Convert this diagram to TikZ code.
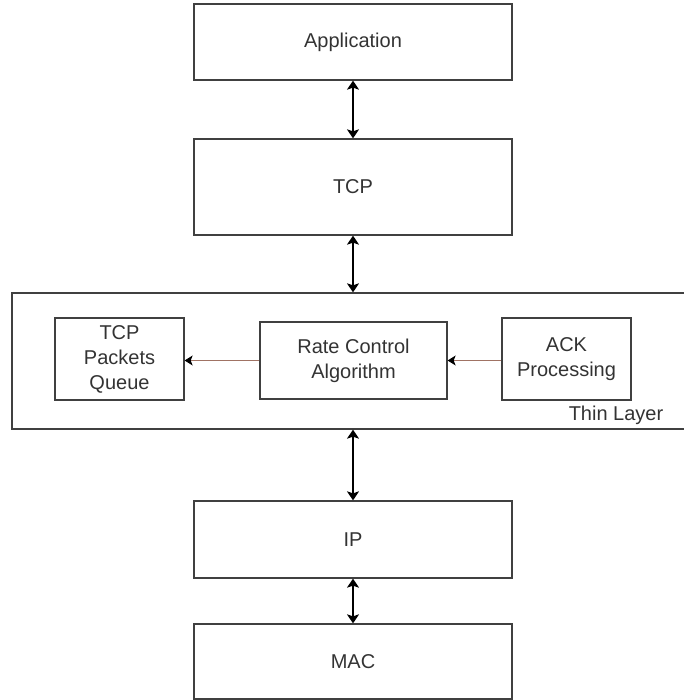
\documentclass[tikz,border=0pt]{standalone}
\usepackage{fontspec}
\setmainfont{Liberation Sans}
\usetikzlibrary{arrows.meta}
\definecolor{linkbrown}{RGB}{160,115,100}
\tikzset{
  box/.style={draw=black!75,line width=1.3pt,inner sep=0pt,align=center,text=black!80,
    font=\fontsize{20}{25}\selectfont},
  layer/.style={box,minimum width=318pt},
  updown/.style={{Stealth[length=9pt,width=12pt,inset=2pt]}-{Stealth[length=9pt,width=12pt,inset=2pt]},line width=1.3pt},
  feed/.style={-{Stealth[black,length=8pt,width=10pt,inset=2pt]},draw=linkbrown,line width=1pt}
}
\begin{document}
\begin{tikzpicture}[x=1pt,y=-1pt]
  \useasboundingbox (0,0) rectangle (683,700);%

  \node[layer,minimum height=76pt] (app) at (353,42) {Application};%
  \node[layer,minimum height=96pt] (tcp) at (353,187) {TCP};%
  \node[box,minimum width=680pt,minimum height=136pt] (thin) at (352,361) {};%
  \node[layer,minimum height=77pt] (ip) at (353,539.5) {IP};%
  \node[layer,minimum height=75pt] (mac) at (353,661.5) {MAC};%

  \node[box,minimum width=129pt,minimum height=82pt] (queue) at (119.5,359) {TCP\\Packets\\Queue};%
  \node[box,minimum width=187pt,minimum height=77pt] (rate) at (353.5,360.5) {Rate Control\\Algorithm};%
  \node[box,minimum width=129pt,minimum height=82pt] (ack) at (566.5,359) {ACK\\Processing};%
  \node[text=black!80,font=\fontsize{20}{24}\selectfont] (thinlabel) at (616,415) {Thin Layer};%

  \draw[updown] (app.south) -- (tcp.north);%
  \draw[updown] (tcp.south) -- (tcp.south |- thin.north);%
  \draw[updown] (ip.north |- thin.south) -- (ip.north);%
  \draw[updown] (ip.south) -- (mac.north);%

  \draw[feed] (rate.west) -- (rate.west -| queue.east);%
  \draw[feed] (ack.west |- rate.west) -- (rate.east);%

\end{tikzpicture}
\end{document}
